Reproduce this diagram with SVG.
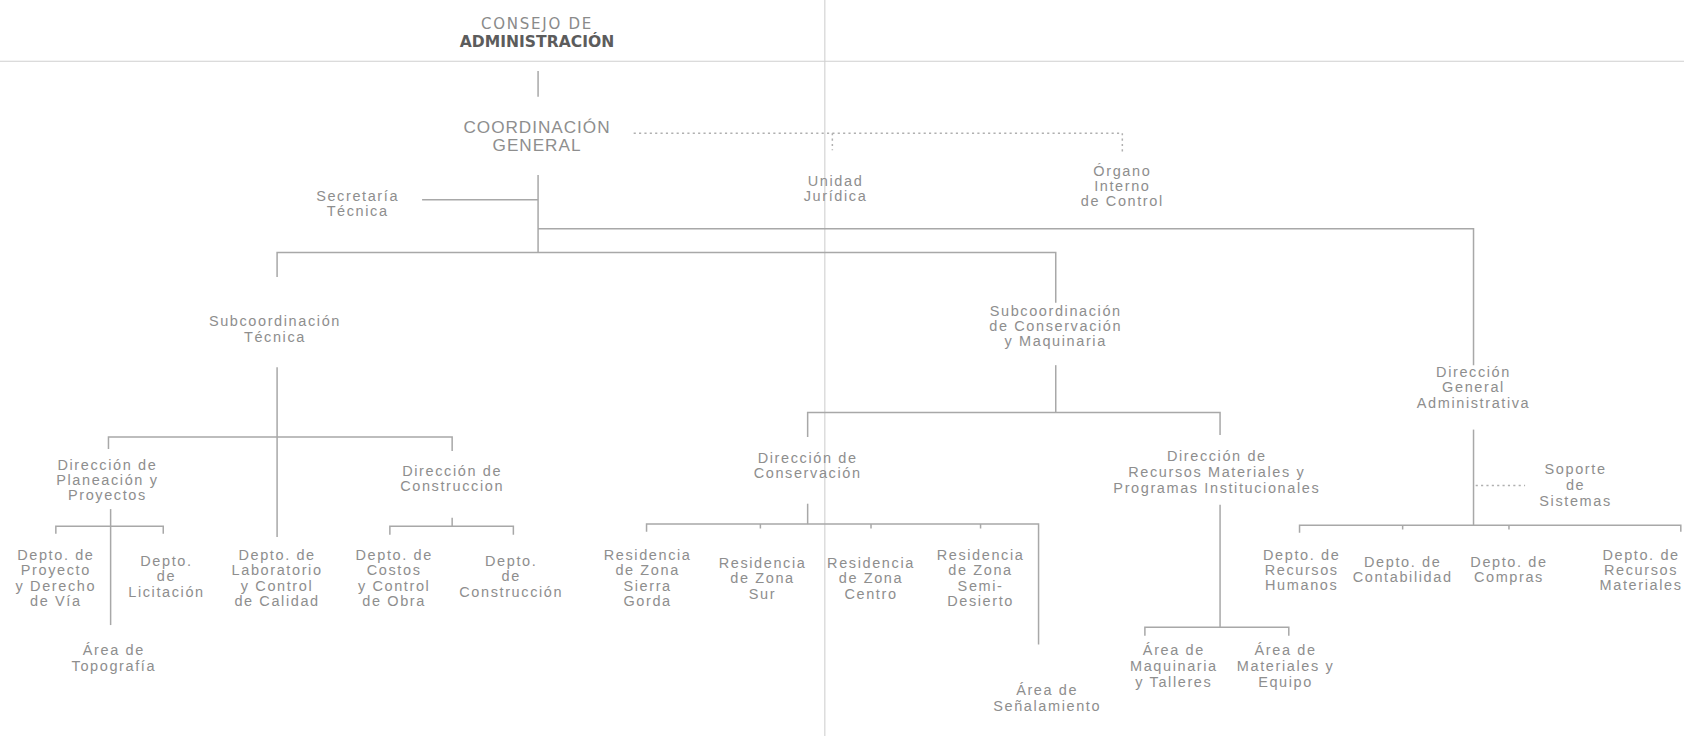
<svg xmlns="http://www.w3.org/2000/svg" width="1684" height="736" viewBox="0 0 1684 736">
<style>
.t{font-family:"Liberation Sans",Arial,sans-serif;font-size:13.5px;letter-spacing:1.5px;fill:#8e8e8e;text-anchor:middle}
.tl{font-family:"DejaVu Sans","Liberation Sans",sans-serif;font-size:14px;letter-spacing:1.6px;fill:#8a8a8a;text-anchor:middle}
.tb{font-family:"DejaVu Sans","Liberation Sans",sans-serif;font-size:14.5px;font-weight:bold;fill:#5c5c5c;text-anchor:middle}
.tc{font-family:"Liberation Sans",Arial,sans-serif;font-size:16px;letter-spacing:0.9px;fill:#8e8e8e;text-anchor:middle}
.ln{fill:none;stroke:#a8a8a8;stroke-width:1.4}
.dt{fill:none;stroke:#b0b0b0;stroke-width:1.4;stroke-dasharray:2 3}
.sc{fill:none;stroke:#cfcfcf;stroke-width:1}
</style>
<rect width="1684" height="736" fill="#ffffff"/>
<g transform="scale(1.074)">
<g id="scan-lines">
<path class="sc" d="M0,57 H1568"/>
<path class="sc" d="M768,0 V686"/>
</g>
<g id="connectors">
<path class="ln" d="M501,66 V90"/>
<path class="dt" d="M590,124 H1045 V143"/>
<path class="dt" d="M775,124 V140"/>
<path class="ln" d="M393,186 H501"/>
<path class="ln" d="M501,163 V235"/>
<path class="ln" d="M501,213 H1372 V340"/>
<path class="ln" d="M258,258 V235 H983 V282"/>
<path class="ln" d="M258,342 V500"/>
<path class="ln" d="M101,418 V407 H421 V420"/>
<path class="ln" d="M103,474 V582"/>
<path class="ln" d="M52,497 V490 H152 V497"/>
<path class="ln" d="M421,482 V490"/>
<path class="ln" d="M363,498 V490 H478 V498"/>
<path class="ln" d="M983,340 V384"/>
<path class="ln" d="M752,407 V384 H1136 V405"/>
<path class="ln" d="M752,469 V488"/>
<path class="ln" d="M602,495 V488 H967 V600"/>
<path class="ln" d="M708,488 V492 M811,488 V492 M913,488 V492"/>
<path class="ln" d="M1136,470 V584"/>
<path class="ln" d="M1066,592 V584 H1200 V592"/>
<path class="ln" d="M1372,400 V489"/>
<path class="ln" d="M1210,496 V489 H1565 V495"/>
<path class="ln" d="M1306,489 V493 M1405,489 V493"/>
<path class="dt" d="M1374,452 H1420"/>
</g>
<g id="n-consejo"><text class="tl" x="500" y="27">CONSEJO DE</text><text class="tb" x="500" y="44">ADMINISTRACIÓN</text></g>
<g id="n-coordinacion"><text class="tc" x="500" y="124">COORDINACIÓN</text><text class="tc" x="500" y="141">GENERAL</text></g>
<g id="n-secretaria"><text class="t" x="333" y="187">Secretaría</text><text class="t" x="333" y="201">Técnica</text></g>
<g id="n-unidad"><text class="t" x="778" y="173">Unidad</text><text class="t" x="778" y="187">Jurídica</text></g>
<g id="n-organo"><text class="t" x="1045" y="164">Órgano</text><text class="t" x="1045" y="178">Interno</text><text class="t" x="1045" y="192">de Control</text></g>
<g id="n-subtecnica"><text class="t" x="256" y="304">Subcoordinación</text><text class="t" x="256" y="318">Técnica</text></g>
<g id="n-subconservacion"><text class="t" x="983" y="294">Subcoordinación</text><text class="t" x="983" y="308">de Conservación</text><text class="t" x="983" y="322">y Maquinaria</text></g>
<g id="n-dga"><text class="t" x="1372" y="351">Dirección</text><text class="t" x="1372" y="365">General</text><text class="t" x="1372" y="380">Administrativa</text></g>
<g id="n-planeacion"><text class="t" x="100" y="438">Dirección de</text><text class="t" x="100" y="452">Planeación y</text><text class="t" x="100" y="466">Proyectos</text></g>
<g id="n-dir-construccion"><text class="t" x="421" y="443">Dirección de</text><text class="t" x="421" y="457">Construccion</text></g>
<g id="n-proyecto"><text class="t" x="52" y="521">Depto. de</text><text class="t" x="52" y="535">Proyecto</text><text class="t" x="52" y="550">y Derecho</text><text class="t" x="52" y="564">de Vía</text></g>
<g id="n-licitacion"><text class="t" x="155" y="527">Depto.</text><text class="t" x="155" y="541">de</text><text class="t" x="155" y="556">Licitación</text></g>
<g id="n-topografia"><text class="t" x="106" y="610">Área de</text><text class="t" x="106" y="625">Topografía</text></g>
<g id="n-laboratorio"><text class="t" x="258" y="521">Depto. de</text><text class="t" x="258" y="535">Laboratorio</text><text class="t" x="258" y="550">y Control</text><text class="t" x="258" y="564">de Calidad</text></g>
<g id="n-costos"><text class="t" x="367" y="521">Depto. de</text><text class="t" x="367" y="535">Costos</text><text class="t" x="367" y="550">y Control</text><text class="t" x="367" y="564">de Obra</text></g>
<g id="n-depto-construccion"><text class="t" x="476" y="527">Depto.</text><text class="t" x="476" y="541">de</text><text class="t" x="476" y="556">Construcción</text></g>
<g id="n-dir-conservacion"><text class="t" x="752" y="431">Dirección de</text><text class="t" x="752" y="445">Conservación</text></g>
<g id="n-dir-recursos"><text class="t" x="1133" y="429">Dirección de</text><text class="t" x="1133" y="444">Recursos Materiales y</text><text class="t" x="1133" y="459">Programas Institucionales</text></g>
<g id="n-sierra"><text class="t" x="603" y="521">Residencia</text><text class="t" x="603" y="535">de Zona</text><text class="t" x="603" y="550">Sierra</text><text class="t" x="603" y="564">Gorda</text></g>
<g id="n-sur"><text class="t" x="710" y="529">Residencia</text><text class="t" x="710" y="543">de Zona</text><text class="t" x="710" y="558">Sur</text></g>
<g id="n-centro"><text class="t" x="811" y="529">Residencia</text><text class="t" x="811" y="543">de Zona</text><text class="t" x="811" y="558">Centro</text></g>
<g id="n-semidesierto"><text class="t" x="913" y="521">Residencia</text><text class="t" x="913" y="535">de Zona</text><text class="t" x="913" y="550">Semi-</text><text class="t" x="913" y="564">Desierto</text></g>
<g id="n-senalamiento"><text class="t" x="975" y="647">Área de</text><text class="t" x="975" y="662">Señalamiento</text></g>
<g id="n-maquinaria"><text class="t" x="1093" y="610">Área de</text><text class="t" x="1093" y="625">Maquinaria</text><text class="t" x="1093" y="640">y Talleres</text></g>
<g id="n-materiales"><text class="t" x="1197" y="610">Área de</text><text class="t" x="1197" y="625">Materiales y</text><text class="t" x="1197" y="640">Equipo</text></g>
<g id="n-soporte"><text class="t" x="1467" y="441">Soporte</text><text class="t" x="1467" y="456">de</text><text class="t" x="1467" y="471">Sistemas</text></g>
<g id="n-rh"><text class="t" x="1212" y="521">Depto. de</text><text class="t" x="1212" y="535">Recursos</text><text class="t" x="1212" y="549">Humanos</text></g>
<g id="n-contabilidad"><text class="t" x="1306" y="528">Depto. de</text><text class="t" x="1306" y="542">Contabilidad</text></g>
<g id="n-compras"><text class="t" x="1405" y="528">Depto. de</text><text class="t" x="1405" y="542">Compras</text></g>
<g id="n-rmateriales"><text class="t" x="1528" y="521">Depto. de</text><text class="t" x="1528" y="535">Recursos</text><text class="t" x="1528" y="549">Materiales</text></g>
</g>
</svg>
